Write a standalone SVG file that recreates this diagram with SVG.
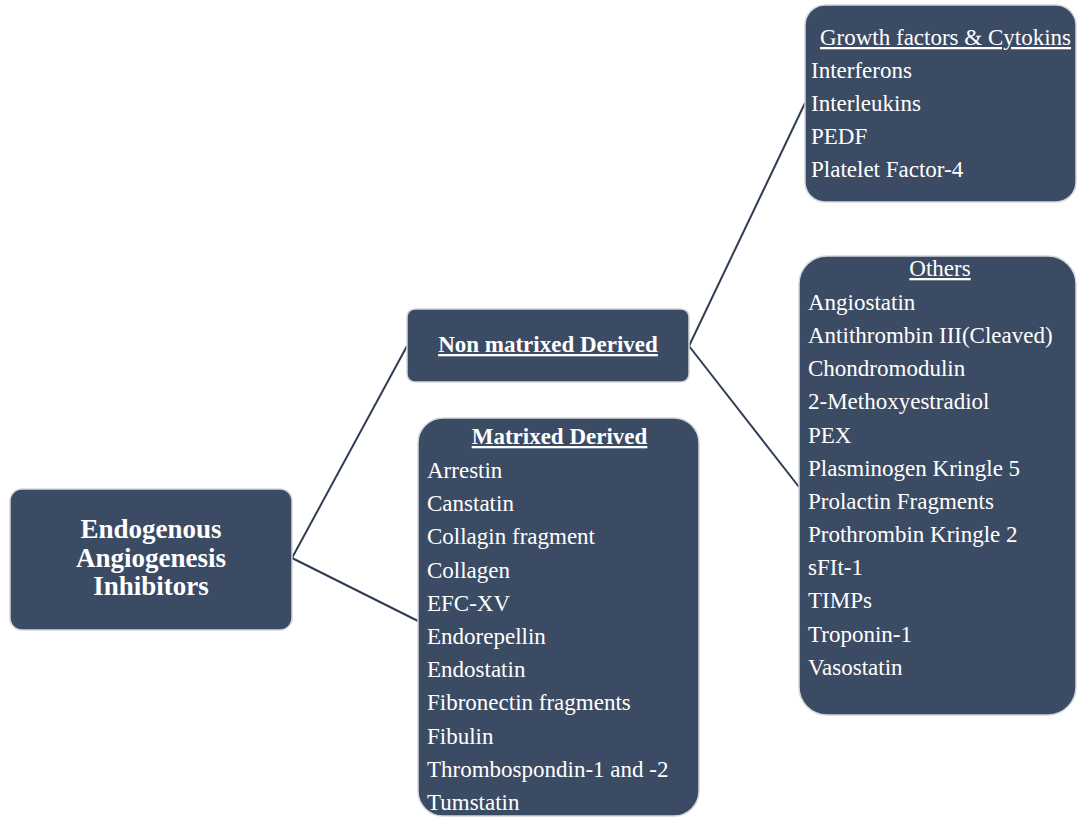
<svg xmlns="http://www.w3.org/2000/svg" width="1077" height="818" viewBox="0 0 1077 818">
<style>
.box{fill:#3c4b64;stroke:#d3d6dc;stroke-width:1.5}
.t{font-family:"Liberation Serif","Times New Roman",serif;fill:#ffffff;font-size:23px}
.b{font-weight:bold}
.u{text-decoration:underline}
.c{text-anchor:middle}
.ln{stroke:#2f3d55;stroke-width:2;fill:none}
</style>
<rect width="1077" height="818" fill="#ffffff"/>
<g id="connectors">
<line class="ln" x1="292" y1="558" x2="407" y2="346"/>
<line class="ln" x1="292" y1="558" x2="418" y2="621"/>
<line class="ln" x1="689" y1="346" x2="805" y2="103"/>
<line class="ln" x1="689" y1="346" x2="799" y2="487"/>
</g>
<g id="root">
<rect class="box" x="10" y="489" width="282" height="141" rx="12"/>
<text class="t b c" style="font-size:27px" x="151" y="538">Endogenous</text>
<text class="t b c" style="font-size:27px" x="151" y="567">Angiogenesis</text>
<text class="t b c" style="font-size:27px" x="151" y="595">Inhibitors</text>
</g>
<g id="nonmatrixed">
<rect class="box" x="407" y="309" width="282" height="73" rx="8"/>
<text class="t b u c" x="548" y="352">Non matrixed Derived</text>
</g>
<g id="matrixed">
<rect class="box" x="418" y="418" width="281" height="398" rx="25"/>
<text class="t b u c" x="559.5" y="444">Matrixed Derived</text>
<text class="t" x="427" y="478">Arrestin</text>
<text class="t" x="427" y="511.2">Canstatin</text>
<text class="t" x="427" y="544.4">Collagin fragment</text>
<text class="t" x="427" y="577.6">Collagen</text>
<text class="t" x="427" y="610.8">EFC-XV</text>
<text class="t" x="427" y="644">Endorepellin</text>
<text class="t" x="427" y="677.2">Endostatin</text>
<text class="t" x="427" y="710.4">Fibronectin fragments</text>
<text class="t" x="427" y="743.6">Fibulin</text>
<text class="t" x="427" y="776.8">Thrombospondin-1 and -2</text>
<text class="t" x="427" y="810">Tumstatin</text>
</g>
<g id="growth">
<rect class="box" x="805" y="5" width="271" height="197" rx="20"/>
<text class="t u c" x="945.5" y="45">Growth factors &amp; Cytokins</text>
<text class="t" x="811" y="78">Interferons</text>
<text class="t" x="811" y="111">Interleukins</text>
<text class="t" x="811" y="144">PEDF</text>
<text class="t" x="811" y="177">Platelet Factor-4</text>
</g>
<g id="others">
<rect class="box" x="799" y="256" width="277" height="459" rx="28"/>
<text class="t u c" x="940" y="276">Others</text>
<text class="t" x="808" y="310">Angiostatin</text>
<text class="t" x="808" y="343">Antithrombin III(Cleaved)</text>
<text class="t" x="808" y="376">Chondromodulin</text>
<text class="t" x="808" y="409">2-Methoxyestradiol</text>
<text class="t" x="808" y="443">PEX</text>
<text class="t" x="808" y="476">Plasminogen Kringle 5</text>
<text class="t" x="808" y="509">Prolactin Fragments</text>
<text class="t" x="808" y="542">Prothrombin Kringle 2</text>
<text class="t" x="808" y="575">sFIt-1</text>
<text class="t" x="808" y="608">TIMPs</text>
<text class="t" x="808" y="642">Troponin-1</text>
<text class="t" x="808" y="675">Vasostatin</text>
</g>
</svg>
